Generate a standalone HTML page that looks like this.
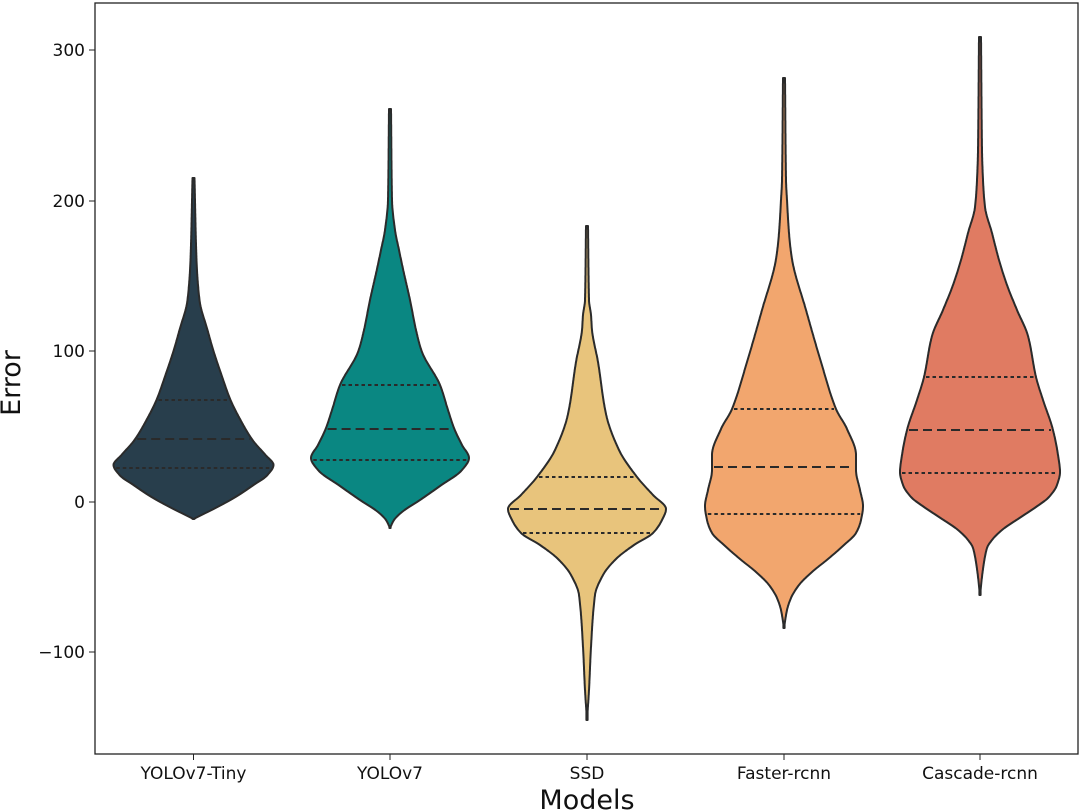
<!DOCTYPE html>
<html><head><meta charset="utf-8"><style>
html,body{margin:0;padding:0;background:#fff;}
svg{display:block;font-family:"DejaVu Sans","Liberation Sans",sans-serif;}
</style></head><body>
<svg id="s" width="1080" height="811" viewBox="0 0 1080 811" xmlns="http://www.w3.org/2000/svg">
<rect x="0" y="0" width="1080" height="811" fill="#fff"/>
<g id="v"></g>
<rect x="95" y="3" width="983" height="751" fill="none" stroke="#222" stroke-width="1.3"/>
<g font-size="17" fill="#111" text-anchor="end">
<line x1="89" y1="50" x2="95" y2="50" stroke="#222"/><text x="85" y="56">300</text>
<line x1="89" y1="201" x2="95" y2="201" stroke="#222"/><text x="85" y="207">200</text>
<line x1="89" y1="351" x2="95" y2="351" stroke="#222"/><text x="85" y="357">100</text>
<line x1="89" y1="502" x2="95" y2="502" stroke="#222"/><text x="85" y="508">0</text>
<line x1="89" y1="652" x2="95" y2="652" stroke="#222"/><text x="85" y="658">−100</text>
</g>
<g font-size="17" fill="#111" text-anchor="middle">
<line x1="193.5" y1="754" x2="193.5" y2="760" stroke="#222"/><text x="193.5" y="779">YOLOv7-Tiny</text>
<line x1="390" y1="754" x2="390" y2="760" stroke="#222"/><text x="390" y="779">YOLOv7</text>
<line x1="587" y1="754" x2="587" y2="760" stroke="#222"/><text x="587" y="779">SSD</text>
<line x1="784" y1="754" x2="784" y2="760" stroke="#222"/><text x="784" y="779">Faster-rcnn</text>
<line x1="980" y1="754" x2="980" y2="760" stroke="#222"/><text x="980" y="779">Cascade-rcnn</text>
</g>
<text x="587" y="809" font-size="27" text-anchor="middle" fill="#111">Models</text>
<text transform="translate(20,383) rotate(-90)" font-size="27" text-anchor="middle" fill="#111">Error</text>
</svg>
<script>
var V=[
{c:193.5,f:"#283e4c",p:[[178,1],[260,3],[300,6],[330,14],[351,20],[375,28],[400,37],[420,47],[440,59],[455,72],[465,80],[475,74],[485,60],[497,42],[508,22],[515,8],[519,0]],q:[400,439,468]},
{c:390,f:"#0a8782",p:[[109,1],[200,2],[230,5],[250,9],[269,13],[300,20],[330,26],[352,32],[385,50],[410,58],[428,64],[445,72],[458,79],[470,72],[486,50],[500,30],[512,12],[520,4],[528,0]],q:[385,429,460]},
{c:587,f:"#e8c47c",p:[[226,1],[300,2],[315,4],[330,5],[362,11],[414,19],[450,32],[477,50],[495,66],[509,79],[520,75],[533,66],[545,47],[559,29],[575,16],[595,8],[647,4],[690,2],[720,0]],q:[477,509,533]},
{c:784,f:"#f2a66e",p:[[78,1],[180,2],[200,3],[233,5],[259,8],[310,22],[362,37],[409,52],[429,63],[455,72],[470,72],[490,76],[506,79],[520,77],[533,72],[545,60],[559,44],[572,28],[585,15],[598,7],[610,3],[628,0]],q:[409,467,514]},
{c:980,f:"#e07b62",p:[[37,1],[150,2],[180,3],[207,5],[233,12],[260,19],[285,27],[310,37],[336,48],[377,56],[400,63],[430,73],[455,78],[472,80],[485,77],[497,69],[507,56],[517,41],[530,22],[540,12],[548,7],[569,3],[595,0]],q:[377,430,473]}
];
function hw(p,y){var n=p.length;
 for(var i=0;i<n-1;i++){if(y>=p[i][0]&&y<=p[i+1][0]){
  var x0=p[i][0],x1=p[i+1][0],h=x1-x0,t=(y-x0)/h;
  function sl(k){if(k<=0)return (p[1][1]-p[0][1])/(p[1][0]-p[0][0]);if(k>=n-1)return (p[n-1][1]-p[n-2][1])/(p[n-1][0]-p[n-2][0]);
   var a=(p[k][1]-p[k-1][1])/(p[k][0]-p[k-1][0]),b=(p[k+1][1]-p[k][1])/(p[k+1][0]-p[k][0]);if(a*b<=0)return 0;return 2/(1/a+1/b);}
  var m0=sl(i),m1=sl(i+1),t2=t*t,t3=t2*t;
  return Math.max(0.6,(2*t3-3*t2+1)*p[i][1]+(t3-2*t2+t)*h*m0+(-2*t3+3*t2)*p[i+1][1]+(t3-t2)*h*m1);}}return 0;}
var g=document.getElementById('v'),h='';
V.forEach(function(o){
 var top=o.p[0][0],bot=o.p[o.p.length-1][0],R=[],L=[];
 for(var y=top;y<=bot;y+=1){var w=hw(o.p,y);R.push((o.c+w).toFixed(1)+','+y);L.unshift((o.c-w).toFixed(1)+','+y);}
 h+='<polygon points="'+R.concat(L).join(' ')+'" fill="'+o.f+'" stroke="#2b2b2b" stroke-width="2" stroke-linejoin="round"/>';
 o.q.forEach(function(y,i){var w=hw(o.p,y)-2;var d=i==1?'9,5':'3.5,3';
  h+='<line x1="'+(o.c-w)+'" y1="'+y+'" x2="'+(o.c+w)+'" y2="'+y+'" stroke="#2a2a2a" stroke-width="2" stroke-dasharray="'+d+'"/>';});
});
g.innerHTML=h;
</script>
</body></html>
